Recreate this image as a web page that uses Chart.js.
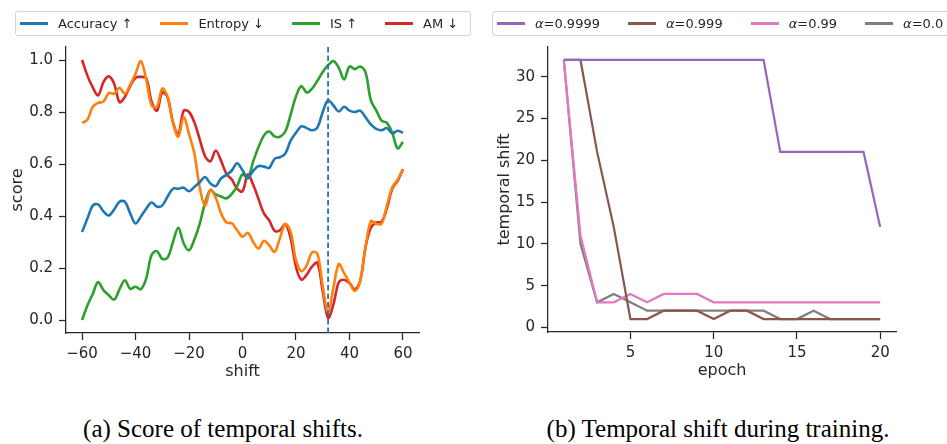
<!DOCTYPE html>
<html>
<head>
<meta charset="utf-8">
<script src="https://cdn.jsdelivr.net/npm/chart.js@4/dist/chart.umd.min.js"></script>
<style>
  body { margin: 0; width: 947px; height: 444px; overflow: hidden; background: #fff; position: relative; font-family: "DejaVu Sans"; }
  canvas { position: absolute; top: 0; }
  .legend { position: absolute; top: 11px; height: 23px; border: 1px solid #d3d3d3; border-radius: 3px;
            display: flex; align-items: center; font-size: 13px; color: #262626; white-space: nowrap; padding-left: 4px; }
  .item { display: flex; align-items: center; margin-right: 28px; }
  .swatch { width: 28px; margin-right: 10px; }
  .caption { position: absolute; top: 416px; font-family: "Liberation Serif"; font-size: 25px; line-height: 25px; text-align: center; color: #000; white-space: nowrap; }
</style>
</head>
<body>
<canvas id="scoreChart" width="470" height="400" style="left:0"></canvas>
<canvas id="trainChart" width="477" height="400" style="left:470px"></canvas>
<div class="legend" id="scoreLegend" style="left:15px;width:450px"></div>
<div class="legend" id="trainLegend" style="left:492px;width:600px"></div>
<div class="caption" style="left:23px;width:400px">(a) Score of temporal shifts.</div>
<div class="caption" style="left:518px;width:400px">(b) Temporal shift during training.</div>
<script>
// (a) skor per pergeseran
const shifts = [-60, -58, -56, -54, -52, -50, -48, -46, -44, -42, -40, -38, -36, -34, -32, -30, -28, -26, -24, -22, -20,
                -18, -16, -14, -12, -10, -8, -6, -4, -2, 0, 2, 4, 6, 8, 10, 12, 14, 16, 18, 20,
                22, 24, 26, 28, 30, 32, 34, 36, 38, 40, 42, 44, 46, 48, 50, 52, 54, 56, 58, 60];
const accuracy = [0.338, 0.39, 0.44, 0.445, 0.418, 0.402, 0.425, 0.455, 0.455, 0.41, 0.371, 0.398, 0.428, 0.452, 0.436, 0.441, 0.475, 0.505, 0.505, 0.509, 0.495,
                  0.512, 0.53, 0.55, 0.525, 0.515, 0.545, 0.558, 0.575, 0.603, 0.576, 0.548, 0.574, 0.592, 0.59, 0.585, 0.62, 0.626, 0.64, 0.69, 0.72,
                  0.745, 0.738, 0.73, 0.74, 0.80, 0.845, 0.825, 0.802, 0.82, 0.805, 0.80, 0.805, 0.78, 0.752, 0.735, 0.73, 0.738, 0.718, 0.728, 0.72];
const entropy = [0.758, 0.77, 0.82, 0.835, 0.84, 0.873, 0.87, 0.893, 0.87, 0.905, 0.947, 0.996, 0.925, 0.825, 0.82, 0.89, 0.858, 0.76, 0.705, 0.78, 0.715,
                 0.64, 0.51, 0.44, 0.50, 0.47, 0.41, 0.375, 0.372, 0.345, 0.32, 0.335, 0.30, 0.275, 0.305, 0.287, 0.262, 0.315, 0.37, 0.34, 0.23,
                 0.188, 0.21, 0.26, 0.255, 0.13, 0.03, 0.125, 0.215, 0.18, 0.145, 0.112, 0.15, 0.28, 0.38, 0.37, 0.37, 0.44, 0.51, 0.54, 0.58];
const inceptionScore = [0.0, 0.056, 0.10, 0.146, 0.115, 0.095, 0.078, 0.118, 0.153, 0.12, 0.128, 0.118, 0.16, 0.25, 0.265, 0.235, 0.24, 0.30, 0.355, 0.295, 0.268,
                        0.31, 0.37, 0.45, 0.50, 0.483, 0.475, 0.468, 0.485, 0.515, 0.56, 0.545, 0.61, 0.665, 0.71, 0.725, 0.706, 0.705, 0.725, 0.79, 0.86,
                        0.90, 0.875, 0.89, 0.92, 0.954, 0.98, 0.996, 0.97, 0.925, 0.975, 0.965, 0.975, 0.952, 0.845, 0.806, 0.767, 0.758, 0.72, 0.66, 0.685];
const amScore = [1.0, 0.94, 0.895, 0.864, 0.915, 0.937, 0.909, 0.838, 0.858, 0.90, 0.932, 0.935, 0.93, 0.84, 0.805, 0.875, 0.855, 0.76, 0.715, 0.805, 0.80,
                 0.76, 0.695, 0.63, 0.61, 0.652, 0.612, 0.562, 0.54, 0.505, 0.495, 0.56, 0.52, 0.465, 0.41, 0.383, 0.343, 0.345, 0.368, 0.315, 0.204,
                 0.155, 0.174, 0.205, 0.22, 0.11, 0.008, 0.06, 0.145, 0.155, 0.142, 0.118, 0.15, 0.28, 0.355, 0.375, 0.378, 0.43, 0.505, 0.535, 0.58];
const bestShift = 32;
const shiftTicks = [-60, -40, -20, 0, 20, 40, 60];
const scoreTicks = [0.0, 0.2, 0.4, 0.6, 0.8, 1.0];

// (b) pergeseran selama training
const epochs = [1, 2, 3, 4, 5, 6, 7, 8, 9, 10, 11, 12, 13, 14, 15, 16, 17, 18, 19, 20];
const alpha9999 = [32, 32, 32, 32, 32, 32, 32, 32, 32, 32, 32, 32, 32, 21, 21, 21, 21, 21, 21, 12];
const alpha999 = [32, 32, 21, 12, 1, 1, 2, 2, 2, 1, 2, 2, 1, 1, 1, 1, 1, 1, 1, 1];
const alpha99 = [32, 11, 3, 3, 4, 3, 4, 4, 4, 3, 3, 3, 3, 3, 3, 3, 3, 3, 3, 3];
const alpha0 = [32, 10, 3, 4, 3, 2, 2, 2, 2, 2, 2, 2, 2, 1, 1, 2, 1, 1, 1, 1];
const epochTicks = [5, 10, 15, 20];
const shiftCountTicks = [0, 5, 10, 15, 20, 25, 30];

const ink = '#262626';
Chart.defaults.font.family = 'DejaVu Sans';
Chart.defaults.color = ink;

const fmtNum = v => v < 0 ? '\u2212' + Math.abs(v) : String(v);
const pairs = (xs, ys) => xs.map((x, i) => ({ x: x, y: ys[i] }));

function axis(min, max, ticks, fmt, title, extra) {
    return Object.assign({
        type: 'linear',
        min: min,
        max: max,
        afterBuildTicks: s => { s.ticks = ticks.map(v => ({ value: v })); },
        ticks: { callback: fmt, font: { size: 15 }, color: ink, autoSkip: false, maxRotation: 0 },
        grid: { drawOnChartArea: false, tickLength: 7, color: ink, tickWidth: 1.25 },
        border: { color: ink, width: 1.25 },
        title: { display: true, text: title, font: { size: 16 }, color: ink }
    }, extra);
}

const bestLine = {
    id: 'bestLine',
    afterDatasetsDraw(chart) {
        const ctx = chart.ctx;
        const x = chart.scales.x.getPixelForValue(bestShift);
        ctx.save();
        ctx.strokeStyle = '#1f77b4';
        ctx.lineWidth = 1.8;
        ctx.setLineDash([5.5, 3]);
        ctx.beginPath();
        ctx.moveTo(x, chart.chartArea.top);
        ctx.lineTo(x, chart.chartArea.bottom);
        ctx.stroke();
        ctx.restore();
    }
};

function line(label, color, xs, ys, width, tension) {
    return { label: label, data: pairs(xs, ys), borderColor: color, backgroundColor: color,
             borderWidth: width, pointRadius: 0, tension: tension, fill: false };
}

const scoreChart = new Chart(document.getElementById('scoreChart'), {
    type: 'line',
    data: {
        datasets: [
            line('Accuracy \u2191', '#1f77b4', shifts, accuracy, 2.6, 0.35),
            line('Entropy \u2193', '#ff7f0e', shifts, entropy, 2.6, 0.35),
            line('IS \u2191', '#2ca02c', shifts, inceptionScore, 2.6, 0.35),
            line('AM \u2193', '#d62728', shifts, amScore, 2.6, 0.35)
        ]
    },
    options: {
        responsive: false,
        animation: false,
        layout: { padding: { left: 0, top: 47, right: 51, bottom: 17 } },
        plugins: { legend: { display: false }, tooltip: { enabled: false } },
        scales: {
            x: axis(-66, 66, shiftTicks, fmtNum, 'shift', {}),
            y: axis(-0.05, 1.05, scoreTicks, v => v.toFixed(1), 'score', {})
        }
    },
    plugins: [bestLine]
});

const trainChart = new Chart(document.getElementById('trainChart'), {
    type: 'line',
    data: {
        datasets: [
            line('\u03b1=0.9999', '#9467bd', epochs, alpha9999, 2.2, 0),
            line('\u03b1=0.999', '#8c564b', epochs, alpha999, 2.2, 0),
            line('\u03b1=0.99', '#e377c2', epochs, alpha99, 2.2, 0),
            line('\u03b1=0.0', '#7f7f7f', epochs, alpha0, 2.2, 0)
        ]
    },
    options: {
        responsive: false,
        animation: false,
        layout: { padding: { left: 0, top: 47, right: 51, bottom: 18 } },
        plugins: { legend: { display: false }, tooltip: { enabled: false } },
        scales: {
            x: axis(0.05, 20.95, epochTicks, fmtNum, 'epoch', {}),
            y: axis(-0.55, 33.55, shiftCountTicks, fmtNum, 'temporal shift', {})
        }
    }
});

// ukuran sumbu dikunci supaya area plot sama dengan gambar asli
function lockAxes(chart, yWidth, yTitlePad) {
    chart.options.scales.x.afterFit = s => { s.height = 50; };
    chart.options.scales.x.ticks.padding = 5;
    chart.options.scales.x.title.padding = { top: 0, bottom: 2 };
    chart.options.scales.y.afterFit = s => { s.width = yWidth; };
    chart.options.scales.y.ticks.padding = 6;
    chart.options.scales.y.title.padding = { top: yTitlePad, bottom: 0 };
    chart.update();
}
lockAxes(scoreChart, 66, 8);
lockAxes(trainChart, 78, 25);

function buildLegend(chart, id, lw) {
    const box = document.getElementById(id);
    chart.data.datasets.forEach(ds => {
        const item = document.createElement('div');
        item.className = 'item';
        const sw = document.createElement('div');
        sw.className = 'swatch';
        sw.style.height = lw + 'px';
        sw.style.background = ds.borderColor;
        const txt = document.createElement('span');
        txt.innerHTML = ds.label.replace('\u03b1', '<i>\u03b1</i>');
        item.appendChild(sw);
        item.appendChild(txt);
        box.appendChild(item);
    });
}
buildLegend(scoreChart, 'scoreLegend', 2.4);
buildLegend(trainChart, 'trainLegend', 2.2);
</script>
</body>
</html>
